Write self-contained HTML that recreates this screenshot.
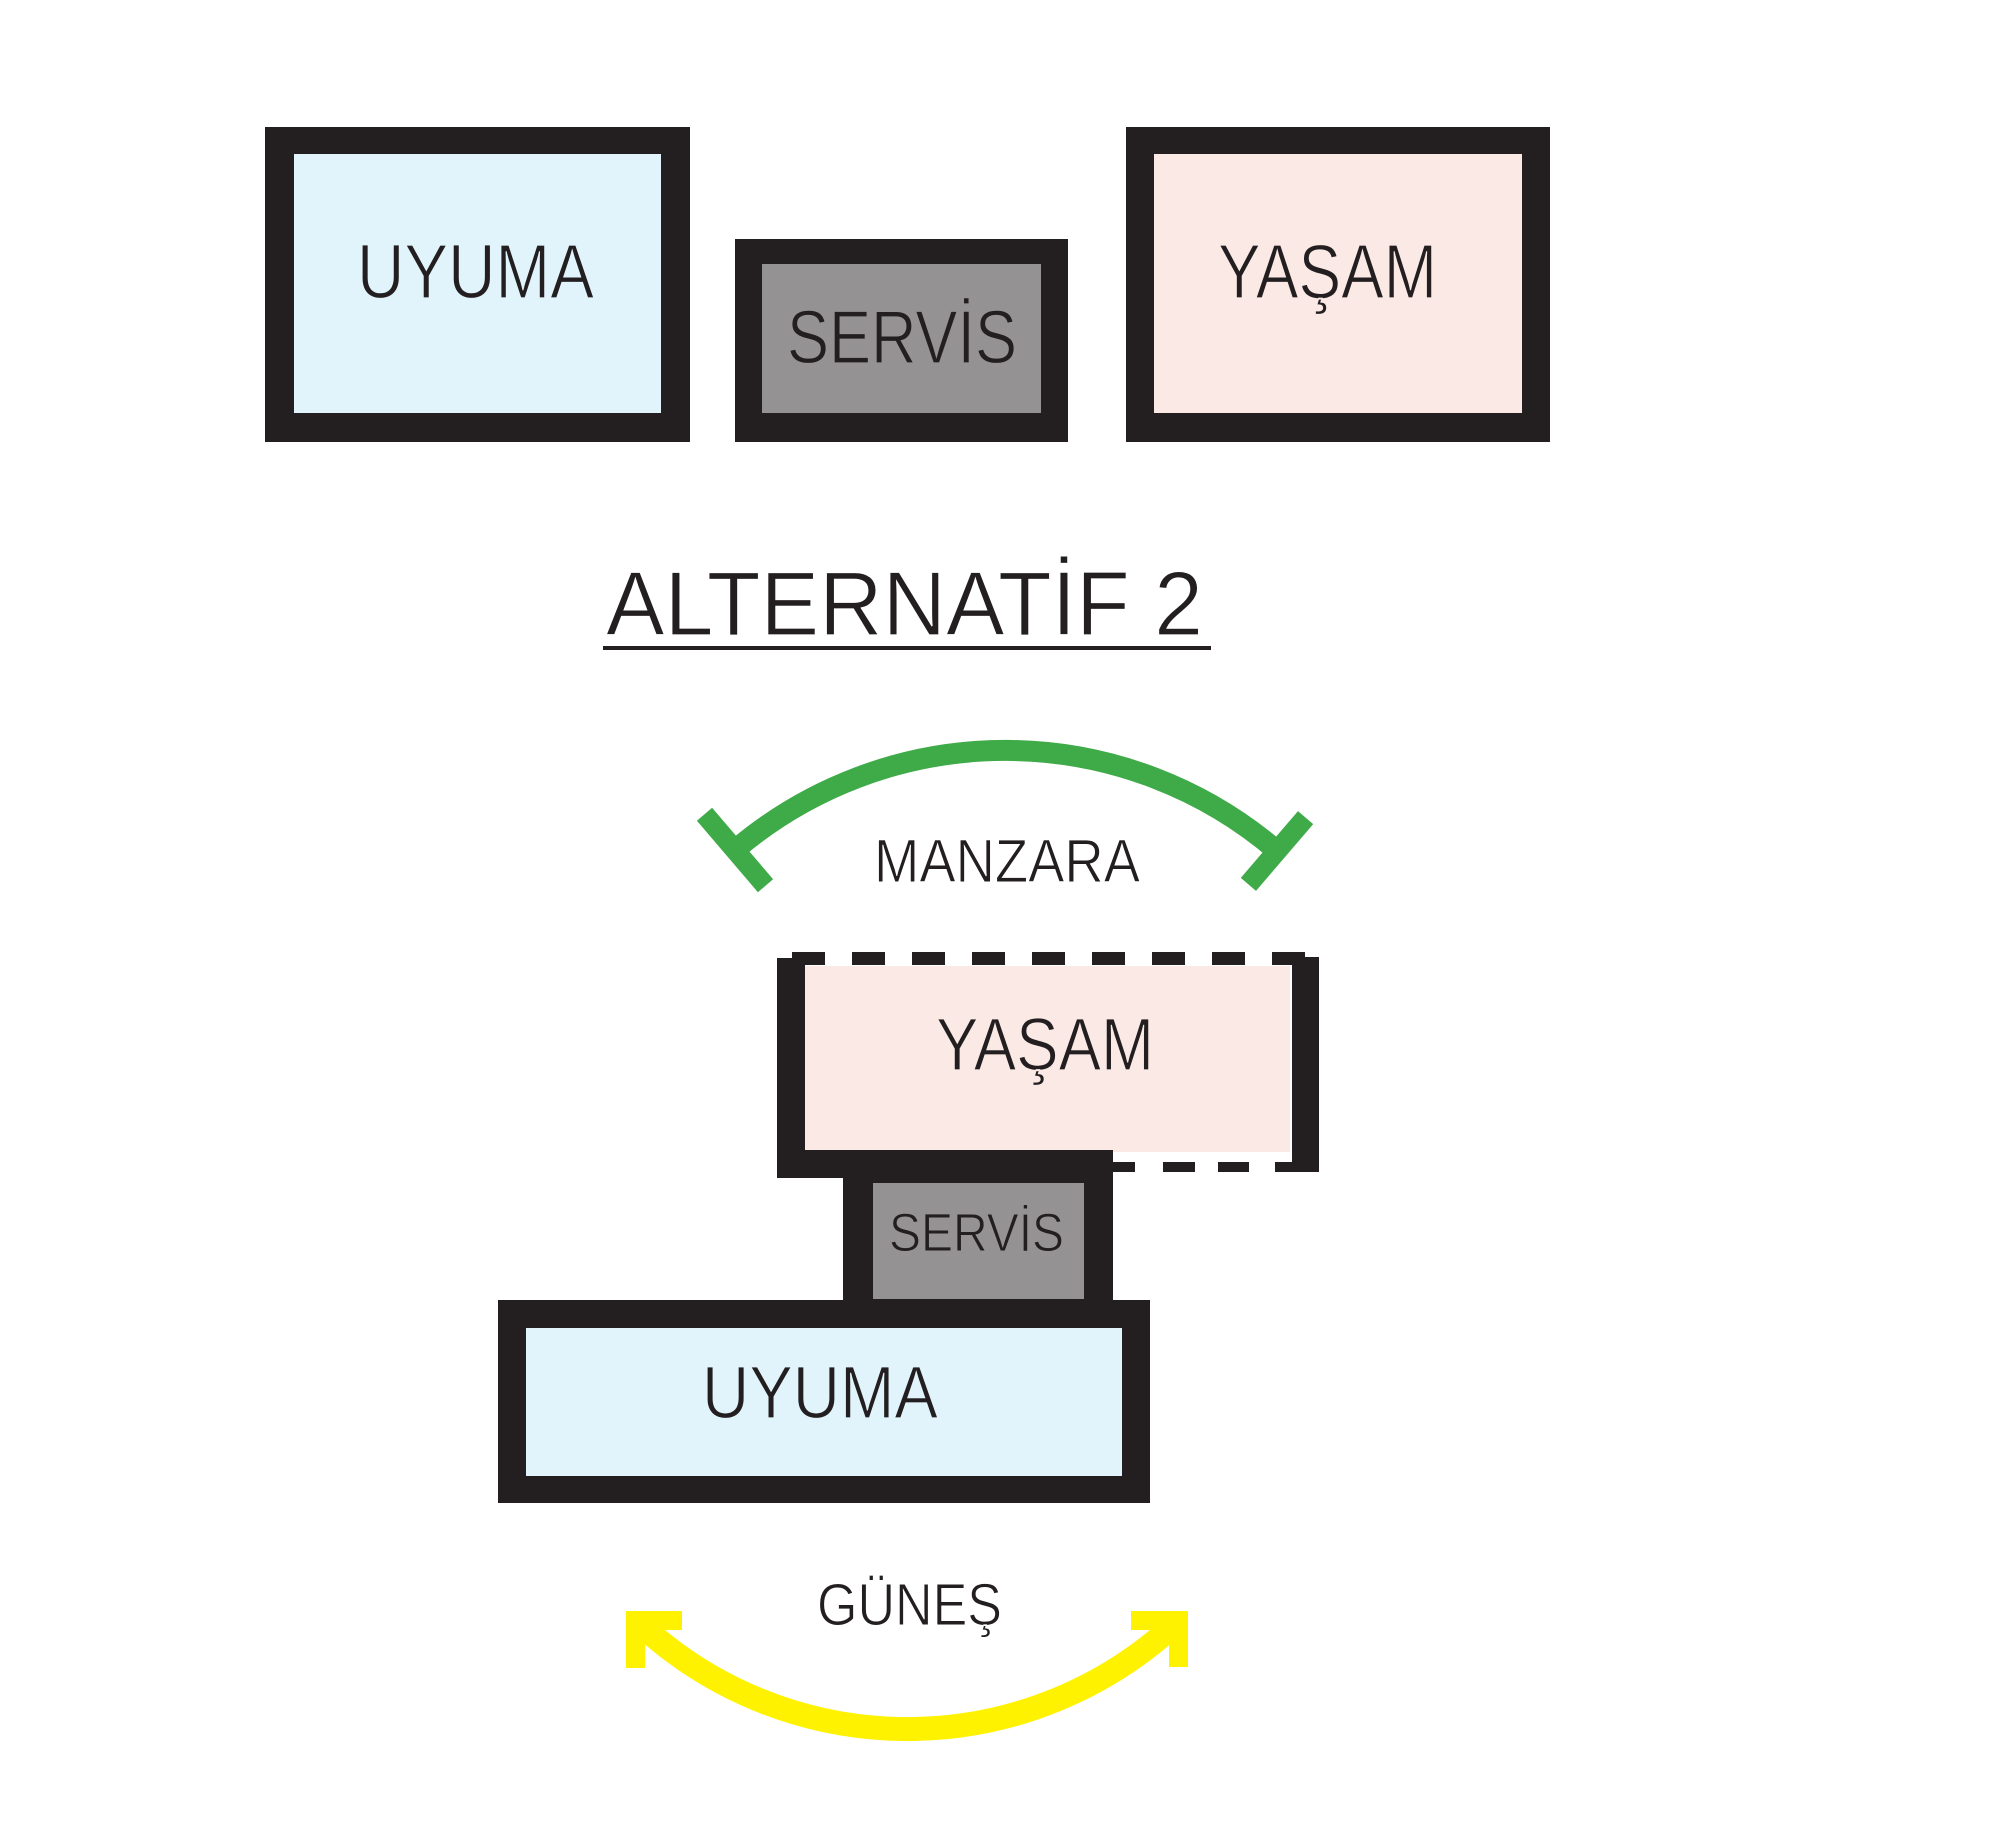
<!DOCTYPE html>
<html><head><meta charset="utf-8"><style>
html,body{margin:0;padding:0;background:#fff;}
svg{display:block;}
text{font-family:"Liberation Sans","DejaVu Sans",sans-serif;fill:#231F20;}
</style></head><body>
<svg width="2000" height="1822" viewBox="0 0 2000 1822" xmlns="http://www.w3.org/2000/svg">
<rect x="0" y="0" width="2000" height="1822" fill="#fff"/>

<!-- Top row -->
<rect x="265" y="127" width="425" height="315" fill="#231F20"/>
<rect x="294" y="154" width="367" height="259" fill="#E1F4FC"/>
<text x="357" y="298" font-size="77" textLength="237" lengthAdjust="spacingAndGlyphs" stroke="#E1F4FC" stroke-width="1.2">UYUMA</text>

<rect x="735" y="239" width="333" height="203" fill="#231F20"/>
<rect x="762" y="264" width="279" height="149" fill="#949293"/>
<text x="787" y="363" font-size="75" textLength="230" lengthAdjust="spacingAndGlyphs" stroke="#949293" stroke-width="1.2">SERVİS</text>

<rect x="1126" y="127" width="424" height="315" fill="#231F20"/>
<rect x="1154" y="154" width="368" height="259" fill="#FBE9E6"/>
<text x="1218" y="298" font-size="77" textLength="219" lengthAdjust="spacingAndGlyphs" stroke="#FBE9E6" stroke-width="1.2">YAŞAM</text>

<!-- Title -->
<text x="606" y="635" font-size="91" textLength="597" lengthAdjust="spacingAndGlyphs" stroke="#fff" stroke-width="1.2">ALTERNATİF 2</text>
<rect x="603" y="646" width="608" height="4" fill="#231F20"/>

<!-- MANZARA arc -->
<path d="M 735 850 A 417 417 0 0 1 1277 851" fill="none" stroke="#3FAA48" stroke-width="21"/>
<line x1="704.5" y1="814.3" x2="765.5" y2="885.7" stroke="#3FAA48" stroke-width="20"/>
<line x1="1305.6" y1="817.6" x2="1248.4" y2="884.4" stroke="#3FAA48" stroke-width="20"/>
<text x="874" y="882" font-size="61" textLength="266" lengthAdjust="spacingAndGlyphs" stroke="#fff" stroke-width="1">MANZARA</text>

<!-- Lower YAŞAM -->
<rect x="805" y="966" width="485" height="186" fill="#FBE9E6"/>
<rect x="777" y="958" width="28" height="220" fill="#231F20"/>
<rect x="777" y="1150" width="336" height="28" fill="#231F20"/>
<rect x="1292" y="957" width="27" height="215" fill="#231F20"/>
<g fill="#231F20">
<rect x="792" y="952" width="33" height="13"/>
<rect x="852" y="952" width="33" height="13"/>
<rect x="912" y="952" width="33" height="13"/>
<rect x="972" y="952" width="33" height="13"/>
<rect x="1032" y="952" width="33" height="13"/>
<rect x="1092" y="952" width="33" height="13"/>
<rect x="1152" y="952" width="33" height="13"/>
<rect x="1212" y="952" width="33" height="13"/>
<rect x="1272" y="952" width="33" height="13"/>
<rect x="1113" y="1162" width="22" height="10"/>
<rect x="1163" y="1162" width="32" height="10"/>
<rect x="1218" y="1162" width="31" height="10"/>
<rect x="1275" y="1162" width="30" height="10"/>
</g>
<text x="936" y="1070" font-size="74" textLength="218" lengthAdjust="spacingAndGlyphs" stroke="#FBE9E6" stroke-width="1.2">YAŞAM</text>

<!-- Lower SERVİS -->
<rect x="843" y="1150" width="270" height="152" fill="#231F20"/>
<rect x="873" y="1183" width="211" height="116" fill="#949293"/>
<text x="889" y="1251" font-size="54" textLength="175" lengthAdjust="spacingAndGlyphs" stroke="#949293" stroke-width="1">SERVİS</text>

<!-- Lower UYUMA -->
<rect x="498" y="1300" width="652" height="203" fill="#231F20"/>
<rect x="526" y="1328" width="596" height="148" fill="#E1F4FC"/>
<text x="702" y="1418" font-size="74" textLength="236" lengthAdjust="spacingAndGlyphs" stroke="#E1F4FC" stroke-width="1.2">UYUMA</text>

<!-- GÜNEŞ arc -->
<path d="M 640 1624 A 393 393 0 0 0 1175 1624" fill="none" stroke="#FFF200" stroke-width="24"/>
<polyline points="682,1620.5 635.5,1620.5 635.5,1668" fill="none" stroke="#FFF200" stroke-width="19" stroke-linejoin="miter"/>
<polyline points="1131,1620.5 1178.5,1620.5 1178.5,1667" fill="none" stroke="#FFF200" stroke-width="19" stroke-linejoin="miter"/>
<text x="817" y="1625" font-size="59" textLength="185" lengthAdjust="spacingAndGlyphs" stroke="#fff" stroke-width="1">GÜNEŞ</text>
</svg>
</body></html>
